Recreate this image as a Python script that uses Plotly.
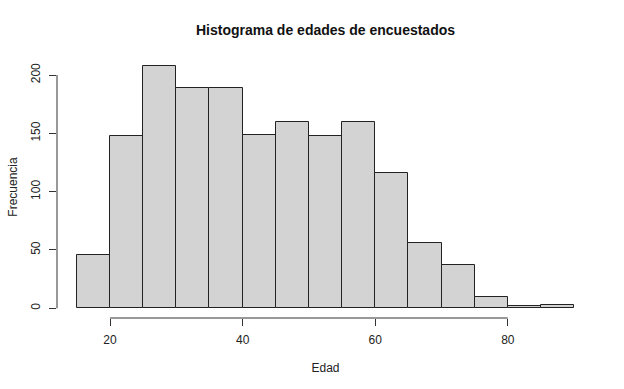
import plotly.graph_objects as go

bin_edges = [15, 20, 25, 30, 35, 40, 45, 50, 55, 60, 65, 70, 75, 80, 85, 90]
counts = [46, 148, 208, 189, 189, 149, 160, 148, 160, 116, 56, 37, 10, 2, 3]
x_ticks = [20, 40, 60, 80]
y_ticks = [0, 50, 100, 150, 200]

centers = [(a + b) / 2 for a, b in zip(bin_edges[:-1], bin_edges[1:])]
widths = [b - a for a, b in zip(bin_edges[:-1], bin_edges[1:])]

W, H = 624, 389
L, R, T, B = 57, 30, 56, 71

xpad = (bin_edges[-1] - bin_edges[0]) * 0.04
ymax = max(counts)
ypad = ymax * 0.04

fig = go.Figure()
fig.add_trace(go.Bar(
    x=centers, y=counts, width=widths,
    marker=dict(color="#d3d3d3", line=dict(color="#222222", width=1)),
    hoverinfo="x+y",
))

font = "Liberation Sans, Arial, sans-serif"
axcol = "#333333"

fig.update_layout(
    width=W, height=H,
    margin=dict(l=L, r=R, t=T, b=B, pad=0),
    paper_bgcolor="white", plot_bgcolor="white",
    showlegend=False,
    bargap=0,
    font=dict(family=font, size=12, color="#222222"),
    title=dict(text="<b>Histograma de edades de encuestados</b>",
               x=0.5, xref="paper", xanchor="center",
               y=1 - 30 / H, yanchor="middle",
               font=dict(size=14, family=font, color="#111111")),
    xaxis=dict(range=[bin_edges[0] - xpad, bin_edges[-1] + xpad],
               tickvals=x_ticks, ticktext=[str(v) for v in x_ticks],
               ticks="outside", ticklen=7, tickcolor=axcol, tickwidth=1,
               showgrid=False, zeroline=False, showline=False,
               title=dict(text="Edad", standoff=17, font=dict(size=12)),
               tickfont=dict(size=12), ticklabelstandoff=4),
    yaxis=dict(range=[-ypad, ymax + ypad],
               tickvals=y_ticks, ticktext=[str(v) for v in y_ticks],
               ticks="outside", ticklen=7, tickcolor=axcol, tickwidth=1,
               tickangle=-90,
               showgrid=False, zeroline=False, showline=False,
               title=dict(text="Frecuencia", standoff=9, font=dict(size=12)),
               tickfont=dict(size=12), ticklabelstandoff=4),
)

# R-style axis lines spanning only the tick range
fig.add_shape(type="line", xref="x", yref="paper",
              x0=x_ticks[0], x1=x_ticks[-1], y0=0, y1=0,
              line=dict(color=axcol, width=1))
fig.add_shape(type="line", xref="paper", yref="y",
              x0=0, x1=0, y0=y_ticks[0], y1=y_ticks[-1],
              line=dict(color=axcol, width=1))

fig.write_html("out.html")
